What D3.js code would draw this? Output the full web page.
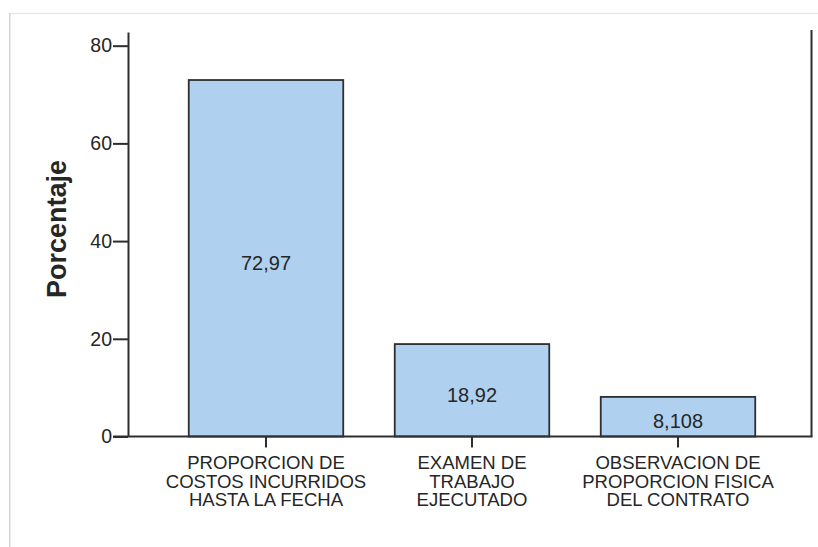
<!DOCTYPE html>
<html>
<head>
<meta charset="utf-8">
<script src="https://cdn.jsdelivr.net/npm/d3@7"></script>
<style>
  html, body { margin: 0; padding: 0; background: #fff; }
  svg { display: block; }
  text { font-family: "Liberation Sans", Arial, sans-serif; fill: #262626; }
</style>
</head>
<body>
<svg id="chart" width="818" height="547"></svg>
<script>
// Category labels, one entry per wrapped line
const categories = ["costos", "examen", "observacion"];
const categoryLines = [
  ["PROPORCION DE", "COSTOS INCURRIDOS", "HASTA LA FECHA"],
  ["EXAMEN DE", "TRABAJO", "EJECUTADO"],
  ["OBSERVACION DE", "PROPORCION FISICA", "DEL CONTRATO"]
];
const values = [72.97, 18.92, 8.108];
const valueLabels = ["72,97", "18,92", "8,108"];
const yTicks = [0, 20, 40, 60, 80];
const yMax = 82.8;
const yTitle = "Porcentaje";

const svg = d3.select("#chart");
const W = 818, H = 547;

// Page frame with a soft shadow on the left edge
const defs = svg.append("defs");
defs.append("filter").attr("id", "soft")
  .attr("x", "-50%").attr("y", "-5%").attr("width", "200%").attr("height", "110%")
  .append("feGaussianBlur").attr("stdDeviation", 1.4);
svg.append("line").attr("x1", 8).attr("x2", 8).attr("y1", 14).attr("y2", H)
  .attr("stroke", "#c4c4c4").attr("stroke-width", 3).attr("filter", "url(#soft)");
svg.append("line").attr("x1", 10).attr("x2", W).attr("y1", 13.5).attr("y2", 13.5)
  .attr("stroke", "#e8e8e8").attr("stroke-width", 1.5);
svg.append("line").attr("x1", 9.8).attr("x2", 9.8).attr("y1", 13).attr("y2", H)
  .attr("stroke", "#c9c9c9").attr("stroke-width", 1.2);

// Plot geometry
const plotLeft = 128, plotRight = 811.5, plotBottom = 436.5, plotTop = 32;

const x = d3.scaleBand().domain(categories).range([163, 781])
  .paddingInner(0.25).paddingOuter(0.125);
const y = d3.scaleLinear().domain([0, yMax]).range([plotBottom, plotTop]);

// Bars
svg.append("g").selectAll("rect").data(values).join("rect")
  .attr("x", (d, i) => x(categories[i]))
  .attr("y", d => y(d))
  .attr("width", x.bandwidth())
  .attr("height", d => y(0) - y(d))
  .attr("fill", "#afd1ef")
  .attr("stroke", "#2e2e2e")
  .attr("stroke-width", 1.8);

// Value labels inside bars
svg.append("g").selectAll("text").data(values).join("text")
  .attr("x", (d, i) => x(categories[i]) + x.bandwidth() / 2)
  .attr("y", d => (y(d) + y(0)) / 2 + 11.5)
  .attr("text-anchor", "middle")
  .attr("font-size", 20)
  .text((d, i) => valueLabels[i]);

// Y axis
const yAxis = svg.append("g").attr("transform", `translate(${plotLeft},0)`)
  .call(d3.axisLeft(y).tickValues(yTicks).tickSize(15).tickPadding(1).tickSizeOuter(0));
yAxis.select(".domain").attr("stroke", "#2e2e2e").attr("stroke-width", 2);
yAxis.selectAll(".tick line").attr("stroke", "#2e2e2e").attr("stroke-width", 2);
yAxis.selectAll(".tick text").attr("font-size", 19.5).attr("fill", "#262626")
  .attr("font-family", "Liberation Sans, Arial, sans-serif");

// Right frame line
svg.append("line").attr("x1", plotRight).attr("x2", plotRight).attr("y1", 30).attr("y2", plotBottom)
  .attr("stroke", "#2e2e2e").attr("stroke-width", 2);

// X axis
const xAxis = svg.append("g").attr("transform", `translate(0,${plotBottom})`)
  .call(d3.axisBottom(x).tickSize(11).tickFormat(""));
xAxis.select(".domain").remove();
xAxis.selectAll(".tick line").attr("stroke", "#2e2e2e").attr("stroke-width", 2);
svg.append("line").attr("x1", plotLeft - 15).attr("x2", plotRight + 1).attr("y1", plotBottom).attr("y2", plotBottom)
  .attr("stroke", "#2e2e2e").attr("stroke-width", 2.2);

// Category labels: tight three-line blocks, slightly widened
const catG = svg.append("g").selectAll("text").data(categories).join("text")
  .attr("text-anchor", "middle")
  .attr("font-size", 17.5)
  .attr("transform", d => `translate(${x(d) + x.bandwidth() / 2},0) scale(1.06,1)`);
catG.selectAll("tspan").data((d, i) => categoryLines[i]).join("tspan")
  .attr("x", 0)
  .attr("y", (d, j) => 469.5 + j * 18.5)
  .text(d => d);

// Y axis title
svg.append("text")
  .attr("transform", "translate(66,229) rotate(-90)")
  .attr("text-anchor", "middle")
  .attr("font-size", 27)
  .attr("font-weight", "bold")
  .attr("fill", "#1e1e1e")
  .text(yTitle);
</script>
</body>
</html>
